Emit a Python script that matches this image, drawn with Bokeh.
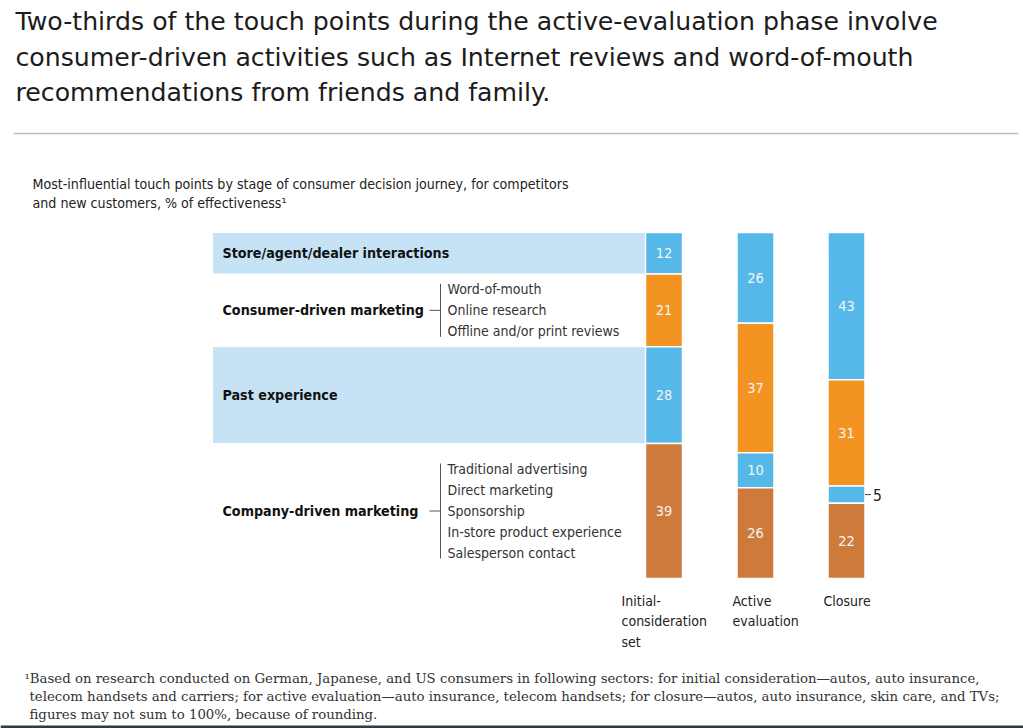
from bokeh.plotting import figure
from bokeh.models import Range1d, ColumnDataSource
from bokeh.core.properties import value
from bokeh.embed import file_html
from bokeh.resources import INLINE

# ---------------- data ----------------
title_lines = [
    "Two-thirds of the touch points during the active-evaluation phase involve",
    "consumer-driven activities such as Internet reviews and word-of-mouth",
    "recommendations from friends and family.",
]
subtitle_lines = [
    "Most-influential touch points by stage of consumer decision journey, for competitors",
    "and new customers, % of effectiveness\u00b9",
]
footnote_lines = [
    "\u00b9Based on research conducted on German, Japanese, and US consumers in following sectors: for initial consideration\u2014autos, auto insurance,",
    "telecom handsets and carriers; for active evaluation\u2014auto insurance, telecom handsets; for closure\u2014autos, auto insurance, skin care, and TVs;",
    "figures may not sum to 100%, because of rounding.",
]
categories = ["Store/agent/dealer interactions", "Consumer-driven marketing",
              "Past experience", "Company-driven marketing"]
stages = [["Initial-", "consideration", "set"], ["Active", "evaluation"], ["Closure"]]
initial = [12, 21, 28, 39]
active = [26, 37, 10, 26]
closure = [43, 31, 5, 22]
consumer_items = ["Word-of-mouth", "Online research", "Offline and/or print reviews"]
company_items = ["Traditional advertising", "Direct marketing", "Sponsorship",
                 "In-store product experience", "Salesperson contact"]
sub_items = {1: consumer_items, 3: company_items}
banded = [0, 2]  # categories with a light band

# ---------------- style / layout ----------------
W, H = 1023, 728
TOP_PX, BOT_PX = 232, 578
K = (BOT_PX - TOP_PX) / 100.0
NARROW = "DejaVu Sans Condensed"
cat_colors = ["#55B8E9", "#F39322", "#55B8E9", "#CD7A3B"]
band_color = "#C6E3F6"
col_centers = [663.5, 755.0, 846.0]
col_width = 37
stage_label_x = [621, 732, 823]
band_left = 212

p = figure(width=W, height=H, x_range=Range1d(0, W), y_range=Range1d(H, 0),
           x_axis_type=None, y_axis_type=None, toolbar_location=None,
           output_backend="svg", min_border=0)
p.extra_y_ranges = {"pct": Range1d(-(H - BOT_PX) / K, 100 + TOP_PX / K)}
p.grid.visible = False
p.outline_line_color = None
p.background_fill_color = "white"
p.border_fill_color = "white"

# ---------------- bars ----------------
columns = [initial, active, closure]
bx, bb, bt, bc, bv = [], [], [], [], []
for ci, vals in enumerate(columns):
    total = float(sum(vals))
    cum = 0.0
    for k, v in enumerate(vals):
        top = 100 - cum / total * 100
        cum += v
        bot = 100 - cum / total * 100
        bx.append(col_centers[ci]); bb.append(bot); bt.append(top)
        bc.append(cat_colors[k]); bv.append(v)
bars = ColumnDataSource(dict(x=bx, bottom=bb, top=bt, color=bc))

# light bands behind category labels (aligned to initial column)
tot0 = float(sum(initial))
cum = 0.0
band_b, band_t, cat_mid = [], [], []
for k, v in enumerate(initial):
    top = 100 - cum / tot0 * 100
    cum += v
    bot = 100 - cum / tot0 * 100
    cat_mid.append((top + bot) / 2)
    if k in banded:
        band_b.append(bot); band_t.append(top)
p.quad(left=band_left, right=col_centers[0] - col_width / 2, bottom=band_b, top=band_t,
       fill_color=band_color, line_color="white", line_width=1, y_range_name="pct")

p.vbar(x="x", bottom="bottom", top="top", width=col_width, fill_color="color",
       line_color="white", line_width=1.5, source=bars, y_range_name="pct")

inside = [i for i in range(len(bv)) if bv[i] >= 8]
outside = [i for i in range(len(bv)) if bv[i] < 8]
p.text(x=[bx[i] for i in inside], y=[(bb[i] + bt[i]) / 2 for i in inside],
       text=[str(bv[i]) for i in inside], text_align="center", text_baseline="middle",
       text_font=value(NARROW), text_font_size="14.5px", text_color="#F4F4F4",
       y_range_name="pct")
for i in outside:
    m = (bb[i] + bt[i]) / 2
    x_r = bx[i] + col_width / 2
    p.segment(x0=x_r, x1=x_r + 6, y0=m, y1=m, line_color="#444", line_width=1,
              y_range_name="pct")
    p.text(x=[x_r + 8], y=[m], text=[str(bv[i])], text_align="left",
           text_baseline="middle", text_font=value(NARROW), text_font_size="15.5px",
           text_color="#222", y_range_name="pct")

# ---------------- category labels ----------------
p.text(x=[222] * len(categories), y=cat_mid, text=categories, text_align="left",
       text_baseline="middle", text_font=value(NARROW), text_font_size="14.2px",
       text_font_style="bold", text_color="#111", y_range_name="pct")

STEP = 21 / K
for k, items in sub_items.items():
    n = len(items)
    c = cat_mid[k]
    ys = [c + ((n - 1) / 2 - i) * STEP for i in range(n)]
    p.text(x=[447] * n, y=ys, text=items, text_align="left", text_baseline="middle",
           text_font=value(NARROW), text_font_size="14px", text_color="#333",
           y_range_name="pct")
    half = (n * 21 / 2 - 5) / K
    p.segment(x0=440, x1=440, y0=c - half, y1=c + half, line_color="#555",
              line_width=1, y_range_name="pct")
    p.segment(x0=429, x1=440, y0=c, y1=c, line_color="#555", line_width=1,
              y_range_name="pct")

# ---------------- stage labels ----------------
for ci, lines in enumerate(stages):
    p.text(x=[stage_label_x[ci]] * len(lines), y=[600 + 20.5 * j for j in range(len(lines))],
           text=lines, text_align="left", text_baseline="middle",
           text_font=value(NARROW), text_font_size="14px", text_color="#222")

# ---------------- title / subtitle / footnote ----------------
p.text(x=[15] * 3, y=[21, 56.5, 92], text=title_lines, text_align="left",
       text_baseline="middle", text_font=value("DejaVu Sans"), text_font_size="25.2px",
       text_color="#1c1c1c")
p.segment(x0=13, x1=1018, y0=133, y1=133, line_color="#BBBBBB", line_width=1.5)
p.text(x=[32] * 2, y=[183, 202.5], text=subtitle_lines, text_align="left",
       text_baseline="middle", text_font=value(NARROW), text_font_size="14.1px",
       text_color="#222")
p.text(x=[24, 29, 29], y=[678, 696, 714], text=footnote_lines, text_align="left",
       text_baseline="middle", text_font=value("DejaVu Serif"), text_font_size="13.3px",
       text_color="#333")
p.quad(left=0, right=W, bottom=H, top=H - 3, fill_color="#2E3B41", line_color=None)

open("out.html", "w").write(file_html(p, INLINE))
